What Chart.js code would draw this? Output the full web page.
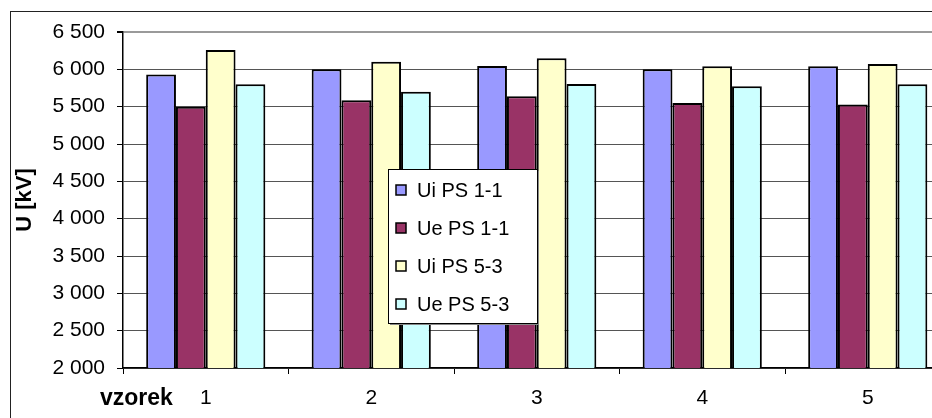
<!DOCTYPE html>
<html>
<head>
<meta charset="utf-8">
<script src="https://cdn.jsdelivr.net/npm/chart.js@4"></script>
<style>
  html, body { margin: 0; padding: 0; background: #fff; overflow: hidden; }
  #wrap { position: absolute; left: 0; top: 0; width: 960px; height: 440px; }
</style>
</head>
<body>
<div id="wrap"><canvas id="chart" width="960" height="440"></canvas></div>
<script>
const samples = ['1', '2', '3', '4', '5'];
const seriesNames = ['Ui PS 1-1', 'Ue PS 1-1', 'Ui PS 5-3', 'Ue PS 5-3'];
const uiPS11 = [5930, 6000, 6045, 6000, 6040];
const uePS11 = [5500, 5585, 5640, 5550, 5530];
const uiPS53 = [6260, 6100, 6150, 6040, 6070];
const uePS53 = [5800, 5700, 5805, 5775, 5800];
const yTicks = [2000, 2500, 3000, 3500, 4000, 4500, 5000, 5500, 6000, 6500];
const colors = ['#9999FF', '#993366', '#FFFFCC', '#CCFFFF'];

const FONT = "'Liberation Sans', Arial, sans-serif";

// outer frame + "vzorek" label
const framePlugin = {
  id: 'frame',
  beforeDraw(chart) {
    const ctx = chart.ctx;
    ctx.save();
    ctx.fillStyle = '#fff';
    ctx.fillRect(0, 0, chart.width, chart.height);
    ctx.strokeStyle = '#222';
    ctx.lineWidth = 1;
    ctx.strokeRect(10.5, 11.5, chart.width + 20, chart.height + 20);
    ctx.restore();
  },
  afterDraw(chart) {
    const ctx = chart.ctx;
    ctx.save();
    ctx.font = 'bold 23px ' + FONT;
    ctx.fillStyle = '#000';
    ctx.textBaseline = 'middle';
    ctx.textAlign = 'left';
    ctx.fillText('vzorek', 100, 399);
    ctx.restore();
  }
};

// legend box drawn inside the plot
const boxLegend = {
  id: 'boxLegend',
  afterDraw(chart) {
    const ctx = chart.ctx;
    const x = 388, y = 169, w = 149, h = 154;
    ctx.save();
    ctx.fillStyle = '#888';
    ctx.fillRect(x + 2, y + 2, w, h);
    ctx.fillStyle = '#fff';
    ctx.fillRect(x, y, w, h);
    ctx.strokeStyle = '#000';
    ctx.lineWidth = 1;
    ctx.strokeRect(x + 0.5, y + 0.5, w, h);
    ctx.font = '20px ' + FONT;
    ctx.textBaseline = 'middle';
    ctx.textAlign = 'left';
    chart.data.datasets.forEach((ds, i) => {
      const cy = 190 + i * 38;
      ctx.fillStyle = ds.backgroundColor;
      ctx.fillRect(396, cy - 5, 10, 10);
      ctx.lineWidth = 1.5;
      ctx.strokeStyle = '#000';
      ctx.strokeRect(396, cy - 5, 10, 10);
      ctx.fillStyle = '#000';
      ctx.fillText(ds.label, 417, cy + 1);
    });
    ctx.restore();
  }
};

const fmt = v => String(v).replace(/\B(?=(\d{3})+(?!\d))/g, ' ');

new Chart(document.getElementById('chart'), {
  type: 'bar',
  data: {
    labels: samples,
    datasets: [uiPS11, uePS11, uiPS53, uePS53].map((d, i) => ({
      label: seriesNames[i],
      data: d,
      backgroundColor: colors[i],
      borderColor: '#000',
      borderWidth: 2,
      borderSkipped: false,
      categoryPercentage: 0.72,
      barPercentage: 1
    }))
  },
  options: {
    responsive: false,
    animation: false,
    devicePixelRatio: 1,
    layout: { padding: { top: 32, right: 9.5, left: 0, bottom: 0 } },
    plugins: { legend: { display: false }, tooltip: { enabled: false } },
    scales: {
      x: {
        afterFit: s => { s.height = 72; },
        grid: { drawOnChartArea: false, drawTicks: true, tickLength: 6, color: '#000', offset: true },
        border: { color: '#000', width: 1.5 },
        ticks: { color: '#000', font: { family: FONT, size: 21 }, padding: 12 }
      },
      y: {
        min: 2000,
        max: 6500,
        afterFit: s => { s.width = 123; },
        afterBuildTicks: s => { s.ticks = yTicks.map(v => ({ value: v })); },
        grid: {
          color: c => (c.tick && c.tick.value === 6500 ? '#9a9a9a' : '#555'),
          lineWidth: c => (c.tick && c.tick.value === 6500 ? 2 : 1),
          tickLength: 6,
          tickColor: '#000'
        },
        border: { color: '#000', width: 1.5 },
        ticks: { color: '#000', font: { family: FONT, size: 21 }, padding: 12, callback: v => fmt(v) },
        title: { display: true, text: 'U [kV]', color: '#000', font: { family: FONT, size: 22, weight: 'bold' }, padding: { top: 12, bottom: 0 } }
      }
    }
  },
  plugins: [framePlugin, boxLegend]
});
</script>
</body>
</html>
